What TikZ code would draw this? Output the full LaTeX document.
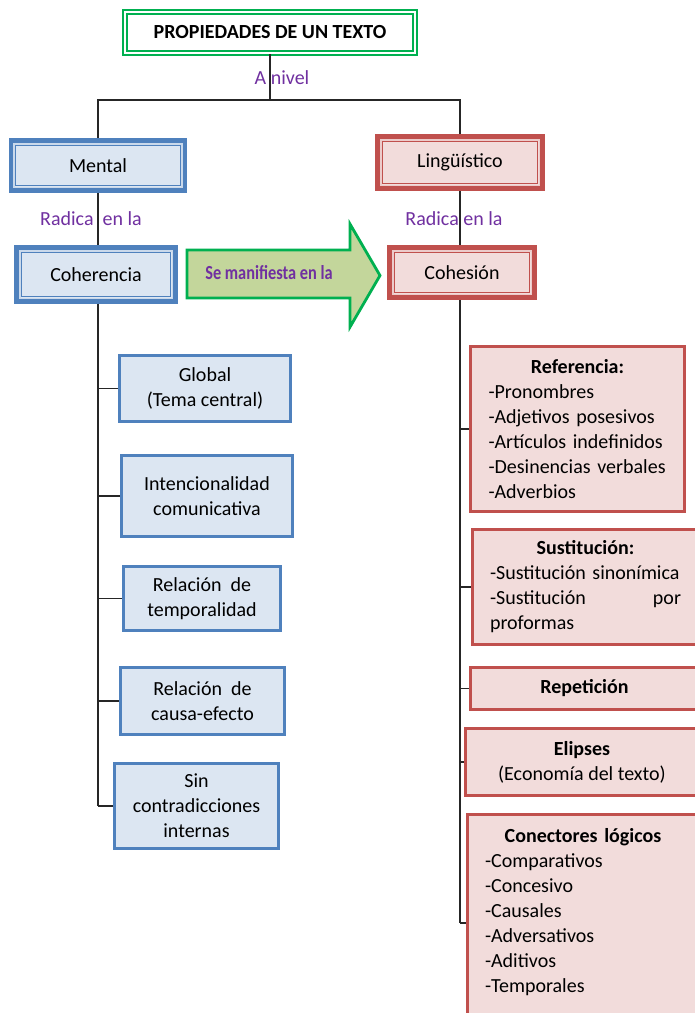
\documentclass[tikz,border=0pt]{standalone}
\usepackage{fontspec}
\setmainfont{Carlito}
\usepackage{graphicx}

\tikzstyle{title-box}=[draw=title-green, line width=2.2pt, double=white, double distance=1.2pt, fill=white, minimum width=290pt, minimum height=41pt]
\tikzstyle{level-box}=[line width=4.6pt, minimum height=49pt,
       path picture={\draw[draw=white!70!\pgfkeysvalueof{/tikz/inner-color}, line width=1.6pt]
              ([shift={(3.2pt,-3.2pt)}]path picture bounding box.north west) rectangle ([shift={(-3.2pt,3.2pt)}]path picture bounding box.south east);
              \draw[draw=\pgfkeysvalueof{/tikz/inner-color}, line width=1pt]
              ([shift={(4.6pt,-4.6pt)}]path picture bounding box.north west) rectangle ([shift={(-4.6pt,4.6pt)}]path picture bounding box.south east);}]
\tikzset{inner-color/.initial=black}
\tikzstyle{mental-level}=[level-box, draw=mental-line, inner-color=mental-line, fill=mental-fill]
\tikzstyle{ling-level}=[level-box, draw=ling-line, inner-color=ling-line, fill=ling-fill]
\tikzstyle{coh-item}=[draw=mental-line, line width=3.4pt, fill=mental-fill, align=center]
\tikzstyle{cohe-item}=[draw=ling-line, line width=3.4pt, fill=ling-fill]
\tikzstyle{level-label}=[text=label-purple, inner sep=1pt]
\tikzstyle{tree-line}=[draw=black!85, line width=1.2pt]
\definecolor{title-green}{HTML}{00B050}
\definecolor{arrow-fill}{HTML}{C3D69B}
\definecolor{mental-line}{HTML}{4F81BD}
\definecolor{mental-fill}{HTML}{DCE6F2}
\definecolor{ling-line}{HTML}{C0504D}
\definecolor{ling-fill}{HTML}{F2DCDB}
\definecolor{label-purple}{HTML}{7030A0}

\begin{document}
\begin{tikzpicture}[x=1pt, y=-1pt, font=\fontsize{20}{25}\selectfont]
       \useasboundingbox (0, 0) rectangle (695, 1013);
       \fill[white] (0, 0) rectangle (695, 1013);

       \node (title) at (270, 32.5) [title-box] {\bfseries PROPIEDADES DE UN TEXTO\hspace{12pt}};
       \node (mental) at (98, 165.5) [mental-level, minimum width=174pt, minimum height=50pt] {Mental};
       \node (ling) at (460, 162.5) [ling-level, minimum width=165pt, minimum height=52pt] {Lingüístico};
       \node (coher) at (96, 274.5) [mental-level, minimum width=159pt, minimum height=54pt] {Coherencia};
       \node (cohes) at (462, 272.5) [ling-level, minimum width=145pt, minimum height=50pt] {Cohesión};

       \node (anivel) at (282, 78) [level-label] {A nivel};
       \node (radica-m) at (91, 219) [level-label] {Radica \ en la};
       \node (radica-l) at (454, 219) [level-label] {Radica en la};

       \draw[draw=title-green, line width=2.8pt, fill=arrow-fill]
            (187, 250) -- (350, 250) -- (350, 224) -- (380, 275.5) -- (350, 327) -- (350, 298) -- (187, 298) -- cycle;
       \node (manif) at (269, 273) [text=label-purple, font=\fontsize{19}{24}\selectfont\bfseries]
            {\scalebox{0.86}[1.05]{Se manifiesta en la}};

       \node (glob) at (205, 388.5) [coh-item, minimum width=171pt, minimum height=66pt] {Global\\(Tema central)};
       \node (intenc) at (207, 496) [coh-item, minimum width=171pt, minimum height=81pt] {Intencionalidad\\comunicativa};
       \node (temp) at (202, 598.5) [coh-item, minimum width=157pt, minimum height=64pt] {Relación \ de\\temporalidad};
       \node (causa) at (202.5, 701) [coh-item, minimum width=164pt, minimum height=67pt] {Relación \ de\\causa-efecto};
       \node (sinc) at (196.5, 806) [coh-item, minimum width=164pt, minimum height=85pt] {Sin\\contradicciones\\internas};

       \node (ref) at (577.5, 429) [cohe-item, minimum width=214pt, minimum height=165pt, text width=178pt, align=left]
            {\makebox[\linewidth]{\bfseries Referencia:}\\-Pronombres\\-Adjetivos posesivos\\-Artículos indefinidos\\-Desinencias verbales\\-Adverbios};
       \node (sust) at (585.5, 587) [cohe-item, minimum width=226pt, minimum height=115pt, text width=191pt, align=left]
            {\makebox[\linewidth]{\bfseries Sustitución:}\\-Sustitución sinonímica\\-Sustitución\hspace{0pt plus 1filll}por\\proformas};
       \node (repet) at (584.5, 688.5) [cohe-item, minimum width=228pt, minimum height=42pt, font=\fontsize{20}{25}\selectfont\bfseries] {Repetición};
       \node (elip) at (582, 762) [cohe-item, minimum width=233pt, minimum height=67pt, align=center]
            {\textbf{Elipses}\\(Economía del texto)};
       \node (conect) at (583, 923) [cohe-item, minimum width=231pt, minimum height=217pt, text width=196pt, align=left]
            {\makebox[\linewidth]{\bfseries Conectores lógicos}\\-Comparativos\\-Concesivo\\-Causales\\-Adversativos\\-Aditivos\\-Temporales\\\mbox{}};

       \coordinate (split) at (270, 100);
       \draw[tree-line] (title.south) -- (split);
       \draw[tree-line] (mental.north) |- (split) -| (ling.north);
       \draw[tree-line] (mental.south) -- (mental.south |- coher.north);
       \draw[tree-line] (ling.south) -- (ling.south |- cohes.north);

       \draw[tree-line] (mental.south |- coher.south) -- (mental.south |- sinc.west);
       \foreach \item in {glob, intenc, temp, causa, sinc}
            \draw[tree-line] (\item.west) -- (\item.west -| mental.south);
       \draw[tree-line] (ling.south |- cohes.south) -- (ling.south |- conect.west);
       \foreach \item in {ref, sust, repet, elip, conect}
            \draw[tree-line] (\item.west) -- (\item.west -| ling.south);
    \end{tikzpicture}
\end{document}
